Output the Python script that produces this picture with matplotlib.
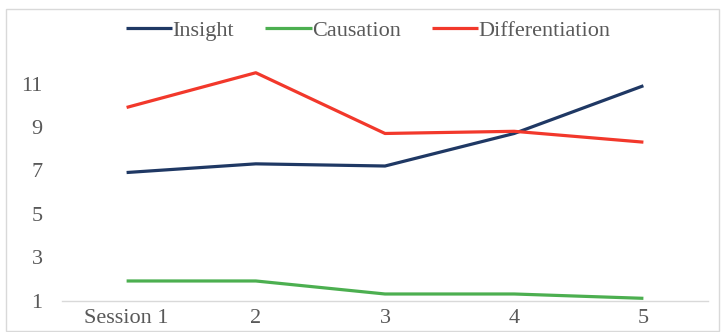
import matplotlib
matplotlib.use("Agg")
import matplotlib.pyplot as plt
from matplotlib.patches import Rectangle

# Session scores per dimension
sessions = ["Session 1", "2", "3", "4", "5"]
insight = [6.9, 7.3, 7.2, 8.7, 10.9]
causation = [1.9, 1.9, 1.3, 1.3, 1.1]
differentiation = [9.9, 11.5, 8.7, 8.8, 8.3]
y_ticks = [1, 3, 5, 7, 9, 11]

series = [
    ("Insight", insight, "#1F3864"),
    ("Causation", causation, "#4CAF50"),
    ("Differentiation", differentiation, "#F2382B"),
]

W, H = 722, 332
fig = plt.figure(figsize=(W / 100, H / 100), dpi=100)
fig.patch.set_facecolor("white")

font = "Liberation Serif"
text_color = "#595959"
fs = 16

ax = fig.add_axes([62 / W, 31.5 / H, 646 / W, 260.3 / H])
x = list(range(len(sessions)))
for name, vals, col in series:
    ax.plot(x, vals, color=col, lw=2.3, label=name, solid_capstyle="butt")

ax.set_xlim(-0.5, len(sessions) - 0.5)
ax.set_ylim(1, 13)
ax.set_xticks(x)
ax.set_xticklabels(sessions)
ax.set_yticks(y_ticks)
ax.set_yticklabels([str(v) for v in y_ticks])
ax.tick_params(axis="both", length=0, labelcolor=text_color, labelsize=fs)
ax.tick_params(axis="y", pad=14)
ax.tick_params(axis="x", pad=6)
for lab in ax.get_xticklabels() + ax.get_yticklabels():
    lab.set_fontfamily(font)
for side in ("top", "right", "left"):
    ax.spines[side].set_visible(False)
ax.spines["bottom"].set_color("#D9D9D9")
ax.spines["bottom"].set_linewidth(1.0)

leg = fig.legend(
    loc="center", bbox_to_anchor=(368 / W, 1 - 30.5 / H), ncol=3, frameon=False,
    handlelength=2.1, handletextpad=0.0, columnspacing=1.4,
    prop={"family": font, "size": fs},
)
for t in leg.get_texts():
    t.set_color(text_color)

# Chart area border
fig.add_artist(Rectangle((6 / W, 1 - 331 / H), 713 / W, 322 / H,
                         transform=fig.transFigure, fill=False,
                         edgecolor="#D9D9D9", lw=1.0))

fig.savefig("out.png", dpi=100)
